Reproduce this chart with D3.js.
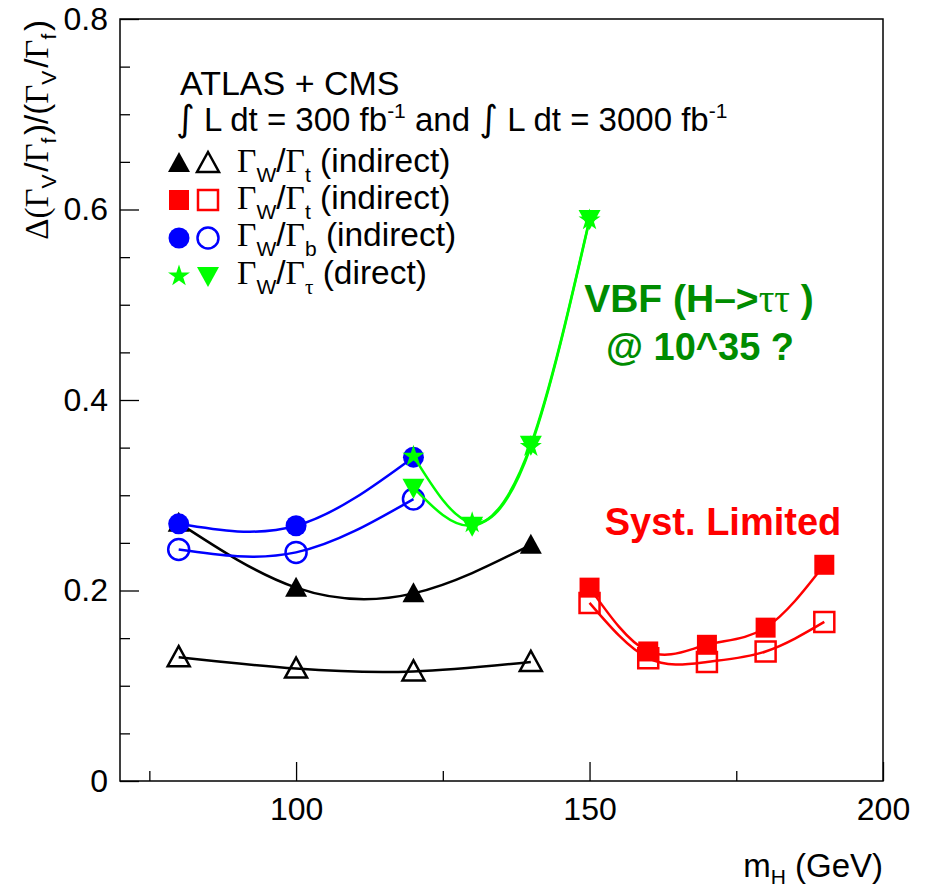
<!DOCTYPE html>
<html>
<head>
<meta charset="utf-8">
<script src="https://cdn.jsdelivr.net/npm/d3@7"></script>
<style>
  html, body { margin: 0; padding: 0; background: #fff; }
  svg { display: block; }
  text { font-family: "Liberation Sans", Arial, Helvetica, sans-serif; }
</style>
</head>
<body>
<svg id="chart" width="926" height="889"></svg>
<script>
// ---------------- data ----------------
const massTop = [80, 100, 120, 140];
const wtTopFilled = [0.271, 0.203, 0.197, 0.248];   // Γ_W/Γ_t indirect, 300 fb-1
const wtTopOpen   = [0.130, 0.118, 0.115, 0.125];   // Γ_W/Γ_t indirect, 3000 fb-1

const massB = [80, 100, 120];
const wbFilled = [0.270, 0.268, 0.340];
const wbOpen   = [0.243, 0.240, 0.296];

const massTau = [120, 130, 140, 150];
const wtauStar = [0.341, 0.271, 0.351, 0.589];
const wtauTri  = [0.308, 0.268, 0.353, 0.590];

const massSyst = [150, 160, 170, 180, 190];
const wtSystFilled = [0.203, 0.136, 0.143, 0.161, 0.227];
const wtSystOpen   = [0.187, 0.129, 0.125, 0.136, 0.167];

const xMajorTicks = [100, 150, 200];
const xMinorTicks = [75, 125, 175];
const yMajorTicks = [0, 0.2, 0.4, 0.6, 0.8];
const yMinorTicks = [0.05, 0.1, 0.15, 0.25, 0.3, 0.35, 0.45, 0.5, 0.55, 0.65, 0.7, 0.75];

// ---------------- layout ----------------
const svg = d3.select("#chart");
const L = 120, R = 883, T = 19, B = 781;
const x = d3.scaleLinear().domain([70, 200]).range([L, R]);
const y = d3.scaleLinear().domain([0, 0.8]).range([B, T]);

const BLACK = "#000000", RED = "#ff0000", BLUE = "#0000ff", GREEN = "#00ff00", DGREEN = "#008c00";

// axes
const yAxisMinor = d3.axisLeft(y).tickValues(yMinorTicks).tickSize(-10).tickFormat("");
const yAxisMajor = d3.axisLeft(y).tickValues(yMajorTicks).tickSize(-19).tickPadding(12)
  .tickFormat(d => d === 0 ? "0" : d3.format(".1f")(d));
const xAxisMinor = d3.axisBottom(x).tickValues(xMinorTicks).tickSize(-10).tickFormat("");
const xAxisMajor = d3.axisBottom(x).tickValues(xMajorTicks).tickSize(-19).tickPadding(16).tickFormat(d3.format("d"));

function styleAxis(g) {
  g.select(".domain").remove();
  g.selectAll(".tick line").attr("stroke", "#000").attr("stroke-width", 1.3);
  g.selectAll(".tick text").attr("fill", "#000").style("font-size", "32px")
    .style("font-family", "'Liberation Sans', Arial, sans-serif");
}
svg.append("g").attr("transform", `translate(${L},0)`).call(yAxisMinor).call(styleAxis);
svg.append("g").attr("transform", `translate(${L},0)`).call(yAxisMajor).call(styleAxis);
svg.append("g").attr("transform", `translate(0,${B})`).call(xAxisMinor).call(styleAxis);
svg.append("g").attr("transform", `translate(0,${B})`).call(xAxisMajor).call(styleAxis);

// frame
svg.append("rect").attr("x", L).attr("y", T).attr("width", R - L).attr("height", B - T)
  .attr("fill", "none").attr("stroke", "#000").attr("stroke-width", 1.5);

// axis titles
const xt = svg.append("text").attr("x", R).attr("y", 877).attr("text-anchor", "end")
  .style("font-size", "33px").attr("fill", "#000");
xt.append("tspan").text("m");
xt.append("tspan").attr("dy", 7).style("font-size", "21px").text("H");
xt.append("tspan").attr("dy", -7).text(" (GeV)");

const yt = svg.append("text").attr("transform", "translate(48,20) rotate(-90)")
  .attr("text-anchor", "end").style("font-size", "33px").attr("fill", "#000");
function ser(sel, t) { sel.append("tspan").style("font-family", "'Liberation Serif', 'DejaVu Serif', serif").text(t); }
function sub(sel, t, fs, d) { sel.append("tspan").attr("dy", d).style("font-size", fs).text(t); sel.append("tspan").attr("dy", -d).text("\u200A"); }
ser(yt, "Δ(Γ"); sub(yt, "V", "21px", 8); yt.append("tspan").text("/"); ser(yt, "Γ"); sub(yt, "f", "21px", 8);
yt.append("tspan").text(")/("); ser(yt, "Γ"); sub(yt, "V", "21px", 8); yt.append("tspan").text("/"); ser(yt, "Γ"); sub(yt, "f", "21px", 8);
yt.append("tspan").text(")");

// ---------------- markers ----------------
function markerPath(type) {
  switch (type) {
    case "triUp": return "M-11,9L11,9L0,-11Z";
    case "triDown": return "M-11,-9L11,-9L0,11Z";
    case "square": return "M-10,-10H10V10H-10Z";
    case "circle": return d3.symbol(d3.symbolCircle, Math.PI * 10.5 * 10.5)();
    case "star": return d3.symbol(d3.symbolStar, 150)();
  }
}
function drawMarkers(g, xs, ys, type, color, filled) {
  g.selectAll(null).data(xs.map((m, i) => [m, ys[i]])).enter().append("path")
    .attr("transform", d => `translate(${x(d[0])},${y(d[1])})`)
    .attr("d", markerPath(type))
    .attr("fill", filled ? color : "none")
    .attr("stroke", filled ? "none" : color)
    .attr("stroke-width", 2.5);
}
const line = d3.line().x(d => x(d[0])).y(d => y(d[1])).curve(d3.curveNatural);
function drawCurve(g, xs, ys, color) {
  g.append("path").datum(xs.map((m, i) => [m, ys[i]])).attr("d", line)
    .attr("fill", "none").attr("stroke", color).attr("stroke-width", 2.5);
}

const plot = svg.append("g");
const series = [
  [massTop, wtTopFilled, "triUp", BLACK, true],
  [massTop, wtTopOpen, "triUp", BLACK, false],
  [massB, wbFilled, "circle", BLUE, true],
  [massB, wbOpen, "circle", BLUE, false],
  [massSyst, wtSystFilled, "square", RED, true],
  [massSyst, wtSystOpen, "square", RED, false],
  [massTau, wtauStar, "star", GREEN, true],
  [massTau, wtauTri, "triDown", GREEN, true]
];
series.forEach(s => { drawCurve(plot, s[0], s[1], s[3]); drawMarkers(plot, s[0], s[1], s[2], s[3], s[4]); });

// ---------------- legend ----------------
const leg = svg.append("g");
leg.append("text").attr("x", 180).attr("y", 95).style("font-size", "34px").text("ATLAS + CMS");
const lum = leg.append("text").attr("x", 176).attr("y", 131).style("font-size", "33px");
lum.append("tspan").style("font-family", "'DejaVu Sans', sans-serif").style("font-size", "36px").text("∫");
lum.append("tspan").text(" L dt = 300 fb");
lum.append("tspan").attr("dy", -13).style("font-size", "21px").text("-1");
lum.append("tspan").attr("dy", 13).text(" and ");
lum.append("tspan").style("font-family", "'DejaVu Sans', sans-serif").style("font-size", "36px").text("∫");
lum.append("tspan").text(" L dt = 3000 fb");
lum.append("tspan").attr("dy", -13).style("font-size", "21px").text("-1");

const legRows = [
  { fill: "triUp", open: "triUp", color: BLACK, sub2: "t", rest: " (indirect)", openFilled: false },
  { fill: "square", open: "square", color: RED, sub2: "t", rest: " (indirect)", openFilled: false },
  { fill: "circle", open: "circle", color: BLUE, sub2: "b", rest: " (indirect)", openFilled: false },
  { fill: "star", open: "triDown", color: GREEN, sub2: "τ", rest: " (direct)", openFilled: true }
];
const rowMarkerY = [163, 200, 238, 276];
const rowBaseY = [172, 209, 246, 284];
legRows.forEach((r, i) => {
  leg.append("path").attr("transform", `translate(179,${rowMarkerY[i]})`).attr("d", markerPath(r.fill))
    .attr("fill", r.color);
  leg.append("path").attr("transform", `translate(208,${rowMarkerY[i]})`).attr("d", markerPath(r.open))
    .attr("fill", r.openFilled ? r.color : "none").attr("stroke", r.openFilled ? "none" : r.color).attr("stroke-width", 2.5);
  const t = leg.append("text").attr("x", 237).attr("y", rowBaseY[i]).style("font-size", "33.5px");
  ser(t, "Γ");
  t.append("tspan").attr("dy", 10).style("font-size", "21px").text("W");
  t.append("tspan").attr("dy", -10).text("/");
  ser(t, "Γ");
  const s2 = t.append("tspan").attr("dy", 10).style("font-size", "21px").text(r.sub2);
  if (r.sub2 === "τ") s2.style("font-family", "'Liberation Serif', serif");
  t.append("tspan").attr("dy", -10).text(r.rest);
});

// ---------------- annotations ----------------
const vbf = svg.append("text").attr("x", 699).attr("y", 312).attr("text-anchor", "middle")
  .style("font-size", "39px").style("font-weight", "bold").attr("fill", DGREEN);
vbf.append("tspan").text("VBF (H–>");
vbf.append("tspan").style("font-family", "'Liberation Serif', serif").style("font-weight", "normal").text("ττ");
vbf.append("tspan").text(" )");
svg.append("text").attr("x", 700).attr("y", 360).attr("text-anchor", "middle")
  .style("font-size", "38px").style("font-weight", "bold").attr("fill", DGREEN).text("@ 10^35 ?");
svg.append("text").attr("x", 723).attr("y", 535).attr("text-anchor", "middle")
  .style("font-size", "38px").style("font-weight", "bold").attr("fill", RED).text("Syst. Limited");
</script>
</body>
</html>
